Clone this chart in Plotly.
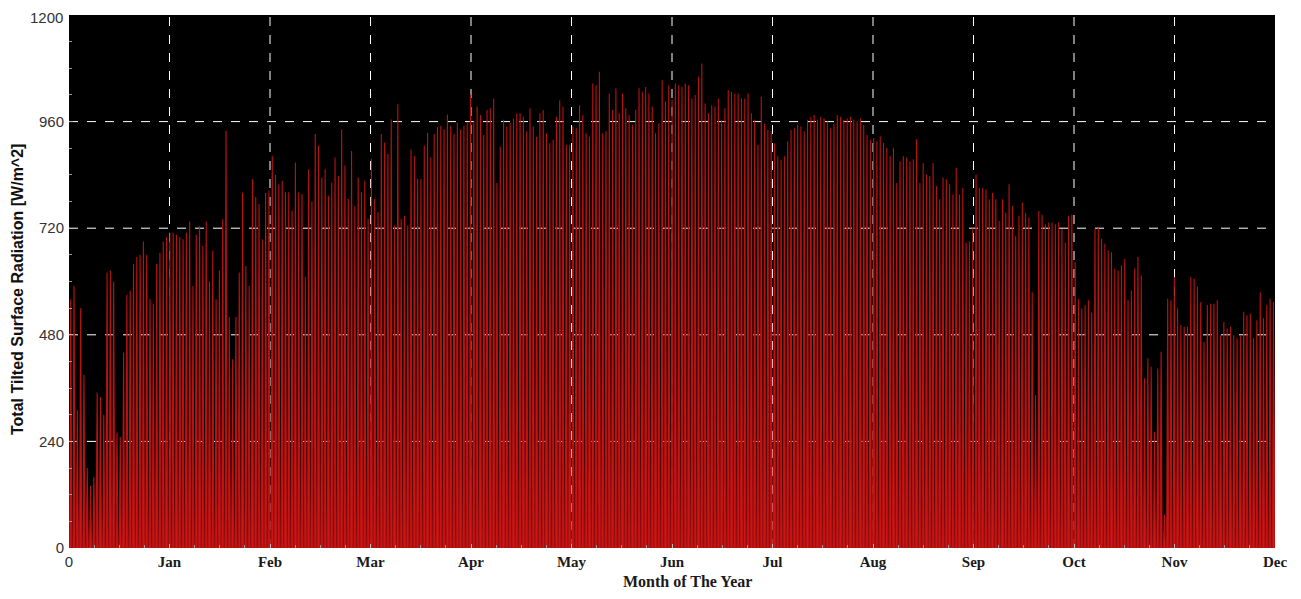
import plotly.graph_objects as go

# Daily peak of total tilted surface radiation [W/m^2] (day 0 .. 364)
peaks_q1 = [560, 590, 310, 540, 390, 180, 140, 160, 350, 340, 300, 620, 625, 600, 260, 250,
            440, 570, 580, 640, 655, 660, 690, 660, 560, 550, 640, 665, 690, 700, 710, 710,
            705, 700, 695, 710, 735, 590, 705, 725, 680, 735, 600, 670, 560, 625, 740, 940,
            520, 425, 520, 620, 800, 635, 590, 830, 790, 775, 695, 800, 805, 883, 840, 819,
            827, 801, 801, 760, 868, 801, 797, 610, 853, 780, 932, 906, 834, 853, 793, 823,
            879, 838, 943, 861, 786, 894, 770, 834, 801, 827, 741]
peaks_q2 = [876, 786, 756, 932, 913, 887, 965, 726, 999, 741, 748, 726, 898, 883, 831, 831,
            906, 935, 879, 932, 947, 950, 943, 976, 950, 932, 958, 943, 950, 958, 1021, 960,
            994, 975, 930, 986, 990, 1012, 822, 904, 964, 949, 956, 967, 979, 979, 971, 938,
            990, 949, 926, 979, 986, 934, 911, 919, 971, 1008, 994, 908, 908, 949, 945, 997,
            975, 934, 926, 1046, 1042, 1072, 934, 938, 1023, 986, 1035, 979, 1023, 990, 975, 953,
            986, 1035, 1027, 1038, 1023, 994, 934, 956, 1053, 1005, 1042]
peaks_q3 = [1010, 1046, 1042, 1038, 1046, 1042, 1012, 1020, 1061, 1091, 1001, 979, 997, 994, 1012, 964,
            990, 1031, 1027, 1023, 1023, 1012, 1012, 1023, 979, 964, 908, 1016, 956, 941, 938, 911,
            882, 874, 882, 915, 941, 945, 953, 949, 938, 964, 971, 975, 964, 971, 967, 960,
            945, 956, 975, 971, 964, 967, 971, 964, 960, 967, 953, 930, 919, 923, 916, 927,
            912, 901, 882, 901, 822, 871, 882, 879, 871, 875, 920, 822, 867, 841, 837, 867,
            815, 785, 834, 830, 819, 796, 856, 796, 811, 688, 690, 720]
peaks_q4 = [841, 811, 811, 807, 785, 800, 785, 736, 785, 755, 819, 770, 703, 748, 778, 755,
            744, 576, 344, 759, 751, 729, 733, 733, 729, 733, 718, 688, 748, 751, 644, 560,
            539, 547, 558, 530, 719, 722, 696, 685, 670, 666, 629, 625, 636, 651, 558, 580,
            629, 655, 614, 382, 427, 408, 262, 404, 442, 75, 561, 558, 610, 539, 502, 498,
            498, 610, 606, 588, 554, 464, 547, 550, 550, 558, 479, 509, 494, 498, 479, 472,
            479, 532, 524, 528, 472, 513, 576, 517, 547, 562, 554]

month_labels = ["0", "Jan", "Feb", "Mar", "Apr", "May", "Jun",
                "Jul", "Aug", "Sep", "Oct", "Nov", "Dec"]
y_ticks = [0, 240, 480, 720, 960, 1200]

daily_peaks = peaks_q1 + peaks_q2 + peaks_q3 + peaks_q4
HOURS_PER_MONTH = 730
HOURS_PER_YEAR = 8760
SUNRISE, NOON, SUNSET = 5, 12.5, 20

# hourly series: each day rises from zero at sunrise to its peak at noon, back to zero at sunset
xs, ys = [0], [0]
for d, p in enumerate(daily_peaks):
    base = d * 24
    xs += [base + SUNRISE, base + NOON, base + SUNSET]
    ys += [0, p, 0]
xs.append(HOURS_PER_YEAR)
ys.append(0)

fig = go.Figure()
fig.add_trace(go.Scatter(
    x=xs, y=ys, mode="lines",
    line=dict(color="#b81212", width=1.1),
    fill="tozeroy", fillcolor="#d01818",
    hoverinfo="skip", showlegend=False,
))

month_ticks = [HOURS_PER_MONTH * i for i in range(len(month_labels))]
shapes = []
for v in y_ticks[1:-1]:
    shapes.append(dict(type="line", xref="paper", x0=0, x1=1, yref="y", y0=v, y1=v,
                       line=dict(color="white", width=1, dash="dash"), layer="below"))
for t in month_ticks[1:-1]:
    shapes.append(dict(type="line", yref="paper", y0=0, y1=1, xref="x", x0=t, x1=t,
                       line=dict(color="white", width=1, dash="dash"), layer="below"))

ticktext = ['<span style="font-family:Liberation Sans;font-weight:normal;font-size:15px;color:#333">0</span>']
ticktext += ["<b>%s</b>" % m for m in month_labels[1:]]

# the top label (1200) is drawn as an annotation nudged down so it stays inside the page
y_ticktext = [str(v) for v in y_ticks[:-1]] + [""]
ytick_font = dict(family="Liberation Sans", size=15, color="#333333")

# page body has an 8px default margin: plot area lands at x 69..1275, y 15..548 on screen
fig.update_layout(
    width=1285, height=583,
    margin=dict(l=61, r=18, t=7, b=43, autoexpand=False),
    paper_bgcolor="white", plot_bgcolor="black",
    shapes=shapes,
    xaxis=dict(range=[0, HOURS_PER_YEAR], tickvals=month_ticks, ticktext=ticktext,
               showgrid=False, zeroline=False, ticks="inside", ticklen=4, tickcolor="#bbbbbb",
               minor=dict(tickmode="linear", tick0=0, dtick=HOURS_PER_MONTH / 4, ticks="inside",
                          ticklen=3, tickcolor="#999999"),
               tickfont=dict(family="Liberation Serif", size=15, color="#1a1a1a"),
               ticklabelstandoff=3, ticklabeloverflow="allow",
               showline=False, automargin=False),
    yaxis=dict(range=[0, 1200], tickvals=y_ticks, ticktext=y_ticktext,
               showgrid=False, zeroline=False,
               ticks="inside", ticklen=4, tickcolor="#bbbbbb",
               minor=dict(tickmode="linear", tick0=0, dtick=60, ticks="inside",
                          ticklen=3, tickcolor="#999999"),
               tickfont=ytick_font,
               ticklabelstandoff=4, ticklabeloverflow="allow",
               showline=False, automargin=False),
    annotations=[
        dict(text=str(y_ticks[-1]), xref="paper", yref="y", x=0, y=y_ticks[-1],
             xanchor="right", yanchor="middle", xshift=-4, yshift=-2, showarrow=False,
             font=ytick_font),
        dict(text="<b>Total Tilted Surface Radiation [W/m^2]</b>", xref="paper", yref="paper",
             x=(17 - 69) / 1206, y=(548 - 290) / 533, textangle=-90, showarrow=False,
             xanchor="center", yanchor="middle",
             font=dict(family="Liberation Sans", size=16, color="#111111")),
        dict(text="<b>Month of The Year</b>", xref="paper", yref="paper",
             x=(687 - 69) / 1206, y=(548 - 581) / 533, showarrow=False,
             xanchor="center", yanchor="middle",
             font=dict(family="Liberation Serif", size=16, color="#1a1a1a")),
    ],
)

fig.write_html("out.html")
